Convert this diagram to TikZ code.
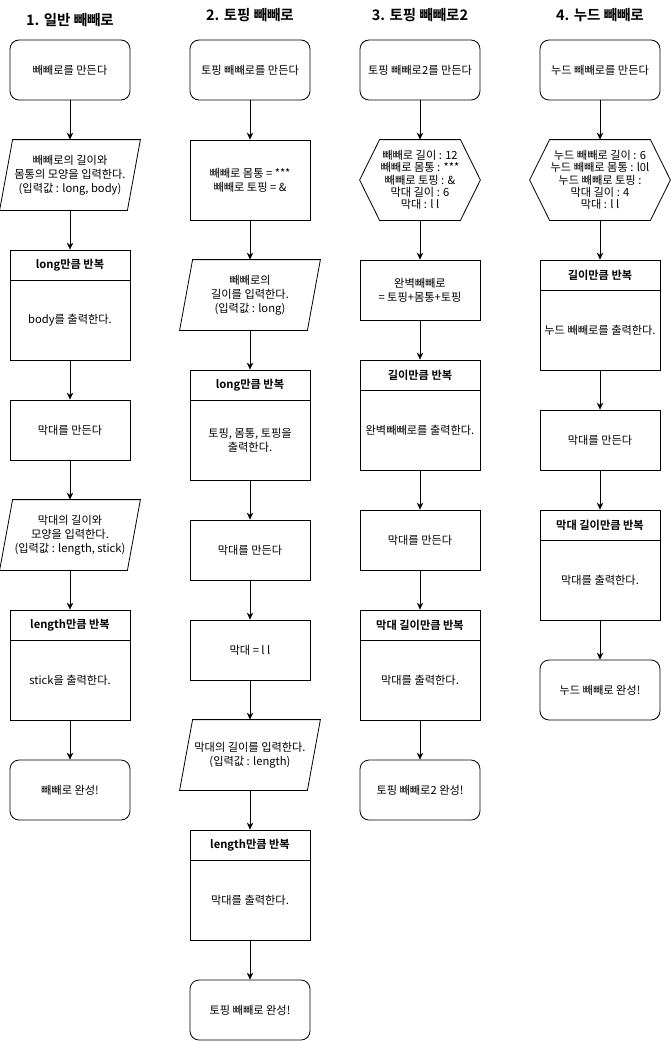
\documentclass[tikz,border=0pt]{standalone}
\usepackage{fontspec}
\setmainfont{Noto Sans CJK KR}[BoldFont={Noto Sans CJK KR Bold}]
\usetikzlibrary{arrows.meta}

\begin{document}
\begin{tikzpicture}[x=1pt, y=-1pt, line width=0.8pt,
		every node/.style={font=\fontsize{11.2}{14}\selectfont, align=center, inner sep=0pt},
		title/.style={font=\fontsize{14.5}{17}\selectfont\bfseries},
		start/.style={draw, rounded corners=9pt, minimum width=120pt, minimum height=60pt},
		proc/.style={draw, minimum width=120pt, minimum height=60pt},
		input/.style={minimum width=140pt, minimum height=70pt,
			append after command={\pgfextra{\draw ([xshift=13pt]\tikzlastnode.north west) -- (\tikzlastnode.north east)
				-- ([xshift=-13pt]\tikzlastnode.south east) -- (\tikzlastnode.south west) -- cycle;}}},
		prep/.style={minimum height=80pt, font=\fontsize{11.2}{12.2}\selectfont,
			append after command={\pgfextra{\draw ([xshift=20pt]\tikzlastnode.north west) -- ([xshift=-20pt]\tikzlastnode.north east)
				-- (\tikzlastnode.east) -- ([xshift=-20pt]\tikzlastnode.south east) -- ([xshift=20pt]\tikzlastnode.south west)
				-- (\tikzlastnode.west) -- cycle;}}},
		lanehead/.style={draw, minimum width=120pt, minimum height=30pt, font=\fontsize{11.2}{14}\selectfont\bfseries},
		lanebody/.style={draw, minimum width=120pt, minimum height=80pt},
		arr/.style={-{Stealth[length=7pt, width=6.5pt]}}]
		\useasboundingbox (0, 0) rectangle (671, 1041);

		% 1. 일반 빼빼로
		\node[title] (t1) at (70, 20) {1. 일반 빼빼로};
		\node[start] (s1) at (70, 70) {빼빼로를 만든다};
		\node[input] (i1) at (70, 175) {빼빼로의 길이와\\몸통의 모양을 입력한다.\\(입력값 : long, body)};
		\node[lanehead] (h1) at (70, 265) {long만큼 반복};
		\node[lanebody] (b1) at (70, 320) {body를 출력한다.};
		\node[proc] (m1) at (70, 430) {막대를 만든다};
		\node[input] (j1) at (70, 535) {막대의 길이와\\모양을 입력한다.\\(입력값 : length, stick)};
		\node[lanehead] (g1) at (70, 625) {length만큼 반복};
		\node[lanebody] (c1) at (70, 680) {stick을 출력한다.};
		\node[start] (e1) at (70, 790) {빼빼로 완성!};

		\draw[arr] (s1) -- (i1);
		\draw[arr] (i1) -- (h1);
		\draw[arr] (b1) -- (m1);
		\draw[arr] (m1) -- (j1);
		\draw[arr] (j1) -- (g1);
		\draw[arr] (c1) -- (e1);

		% 2. 토핑 빼빼로
		\node[title] (t2) at (250, 15) {2. 토핑 빼빼로};
		\node[start] (s2) at (250, 70) {토핑 빼빼로를 만든다};
		\node[proc, minimum height=80pt] (v2) at (250, 180) {빼빼로 몸통 = ***\\빼빼로 토핑 = \&};
		\node[input] (i2) at (250, 295) {빼빼로의\\길이를 입력한다.\\(입력값 : long)};
		\node[lanehead] (h2) at (250, 385) {long만큼 반복};
		\node[lanebody] (b2) at (250, 440) {토핑, 몸통, 토핑을\\출력한다.};
		\node[proc] (m2) at (250, 550) {막대를 만든다};
		\node[proc] (k2) at (250, 650) {막대 = l l};
		\node[input] (j2) at (250, 755) {막대의 길이를 입력한다.\\(입력값 : length)};
		\node[lanehead] (g2) at (250, 845) {length만큼 반복};
		\node[lanebody] (c2) at (250, 900) {막대를 출력한다.};
		\node[start] (e2) at (250, 1010) {토핑 빼빼로 완성!};

		\draw[arr] (s2) -- (v2);
		\draw[arr] (v2) -- (i2);
		\draw[arr] (i2) -- (h2);
		\draw[arr] (b2) -- (m2);
		\draw[arr] (m2) -- (k2);
		\draw[arr] (k2) -- (j2);
		\draw[arr] (j2) -- (g2);
		\draw[arr] (c2) -- (e2);

		% 3. 토핑 빼빼로2
		\node[title] (t3) at (420, 15) {3. 토핑 빼빼로2};
		\node[start] (s3) at (420, 70) {토핑 빼빼로2를 만든다};
		\node[prep, minimum width=120pt] (d3) at (420, 180) {빼빼로 길이 : 12\\빼빼로 몸통 : ***\\빼빼로 토핑 : \&\\막대 길이 : 6\\막대 : l l};
		\node[proc] (p3) at (420, 290) {완벽빼빼로\\= 토핑+몸통+토핑};
		\node[lanehead] (h3) at (420, 375) {길이만큼 반복};
		\node[lanebody] (b3) at (420, 430) {완벽빼빼로를 출력한다.};
		\node[proc] (m3) at (420, 540) {막대를 만든다};
		\node[lanehead] (g3) at (420, 625) {막대 길이만큼 반복};
		\node[lanebody] (c3) at (420, 680) {막대를 출력한다.};
		\node[start] (e3) at (420, 790) {토핑 빼빼로2 완성!};

		\draw[arr] (s3) -- (d3);
		\draw[arr] (d3) -- (p3);
		\draw[arr] (p3) -- (h3);
		\draw[arr] (b3) -- (m3);
		\draw[arr] (m3) -- (g3);
		\draw[arr] (c3) -- (e3);

		% 4. 누드 빼빼로
		\node[title] (t4) at (600, 15) {4. 누드 빼빼로};
		\node[start] (s4) at (600, 70) {누드 빼빼로를 만든다};
		\node[prep, minimum width=140pt] (d4) at (600, 180) {누드 빼빼로 길이 : 6\\누드 빼빼로 몸통 : l0l\\누드 빼빼로 토핑 :\\막대 길이 : 4\\막대 : l l};
		\node[lanehead] (h4) at (600, 275) {길이만큼 반복};
		\node[lanebody] (b4) at (600, 330) {누드 빼빼로를 출력한다.};
		\node[proc] (m4) at (600, 440) {막대를 만든다};
		\node[lanehead] (g4) at (600, 525) {막대 길이만큼 반복};
		\node[lanebody] (c4) at (600, 580) {막대를 출력한다.};
		\node[start] (e4) at (600, 690) {누드 빼빼로 완성!};

		\draw[arr] (s4) -- (d4);
		\draw[arr] (d4) -- (h4);
		\draw[arr] (b4) -- (m4);
		\draw[arr] (m4) -- (g4);
		\draw[arr] (c4) -- (e4);
	\end{tikzpicture}
\end{document}
